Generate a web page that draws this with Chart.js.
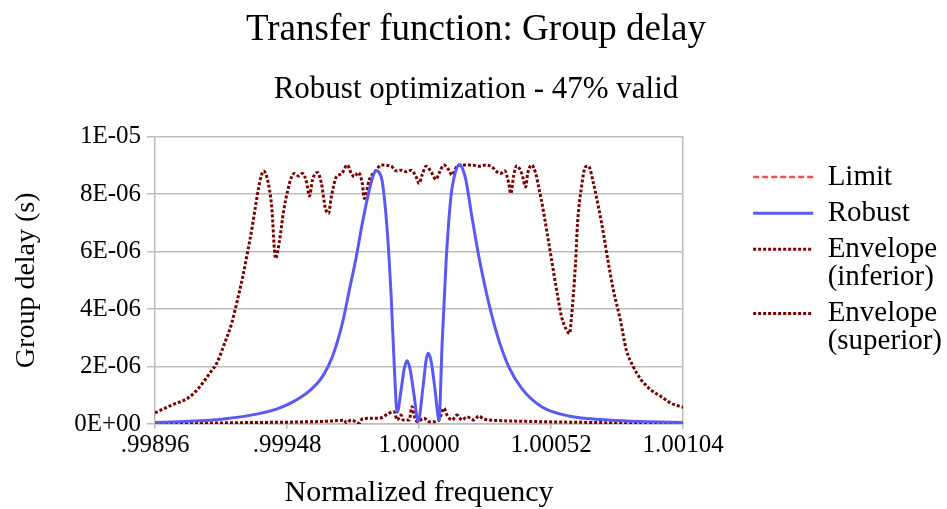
<!DOCTYPE html>
<html>
<head>
<meta charset="utf-8">
<script src="https://cdn.jsdelivr.net/npm/chart.js@4.4.1/dist/chart.umd.min.js"></script>
<style>
  html, body { margin: 0; padding: 0; background: #fff; }
  #wrap { width: 947px; height: 509px; }
</style>
</head>
<body>
<div id="wrap"><canvas id="chart" width="947" height="509"></canvas></div>
<script>
// axis ticks
const xTicks = [0.99896, 0.99948, 1.00000, 1.00052, 1.00104];
const yTicks = [0, 2e-6, 4e-6, 6e-6, 8e-6, 1e-5];

const seriesNames = ['Limit', 'Robust', 'Envelope (inferior)', 'Envelope (superior)'];
const legendLines = [['Limit'], ['Robust'], ['Envelope', '(inferior)'], ['Envelope', '(superior)']];

// Limit has no visible points in the plot
const limitFreq = [];
const limitDelay = [];

const robustFreq = [
  0.9989600, 0.9990777, 0.9992033, 0.9993328, 0.9994388, 0.9995016, 0.9995683, 0.9996193,
  0.9996586, 0.9996978, 0.9997253, 0.9997528, 0.9997763, 0.9998038, 0.9998195, 0.9998312,
  0.9998430, 0.9998548, 0.9998744, 0.9998901, 0.9999019, 0.9999137, 0.9999294, 0.9999411,
  0.9999529, 0.9999647, 0.9999804, 0.9999961, 1.0000157, 1.0000275, 1.0000353, 1.0000471,
  1.0000628, 1.0000785, 1.0000903, 1.0001060, 1.0001256, 1.0001452, 1.0001609, 1.0001727,
  1.0001844, 1.0002080, 1.0002355, 1.0002747, 1.0003140, 1.0003532, 1.0004042, 1.0004827,
  1.0005887, 1.0007457, 1.0009027, 1.0010400
];
const robustDelay = [
  0.05e-6, 0.09e-6, 0.15e-6, 0.30e-6, 0.52e-6, 0.76e-6, 1.15e-6, 1.65e-6,
  2.34e-6, 3.50e-6, 4.66e-6, 5.82e-6, 6.98e-6, 8.14e-6, 8.65e-6, 8.81e-6,
  8.75e-6, 8.45e-6, 6.75e-6, 4.43e-6, 2.11e-6, 0.40e-6, 1.20e-6, 1.90e-6,
  2.20e-6, 1.90e-6, 1.00e-6, 0.08e-6, 1.30e-6, 2.20e-6, 2.46e-6, 2.20e-6,
  1.20e-6, 0.14e-6, 2.69e-6, 5.59e-6, 7.91e-6, 8.83e-6, 9.03e-6, 8.85e-6,
  8.49e-6, 7.21e-6, 5.82e-6, 4.20e-6, 2.92e-6, 1.99e-6, 1.24e-6, 0.60e-6,
  0.28e-6, 0.14e-6, 0.08e-6, 0.05e-6
];

const infFreq = [
  0.9989600, 0.9991366, 0.9993328, 0.9995291, 0.9996468, 0.9997057, 0.9997135, 0.9997331,
  0.9997645, 0.9997763, 0.9998038, 0.9998430, 0.9998823, 0.9999019, 0.9999137, 0.9999294,
  0.9999372, 0.9999608, 0.9999725, 0.9999804, 0.9999921, 1.0000196, 1.0000392, 1.0000589,
  1.0000785, 1.0000981, 1.0001099, 1.0001295, 1.0001491, 1.0001688, 1.0001884, 1.0002158,
  1.0002355, 1.0002551, 1.0003140, 1.0004317, 1.0005494, 1.0007064, 1.0008703, 1.0010400
];
const infDelay = [
  0.02e-6, 0.03e-6, 0.05e-6, 0.07e-6, 0.10e-6, 0.13e-6, 0.04e-6, 0.14e-6,
  0.03e-6, 0.18e-6, 0.20e-6, 0.20e-6, 0.38e-6, 0.43e-6, 0.14e-6, 0.31e-6,
  0.14e-6, 0.14e-6, 0.60e-6, 0.31e-6, 0.08e-6, 0.20e-6, 0.08e-6, 0.08e-6,
  0.14e-6, 0.55e-6, 0.31e-6, 0.14e-6, 0.31e-6, 0.14e-6, 0.25e-6, 0.14e-6,
  0.28e-6, 0.17e-6, 0.12e-6, 0.09e-6, 0.07e-6, 0.05e-6, 0.03e-6, 0.02e-6
];

const supFreq = [
  0.9989600, 0.9990189, 0.9990974, 0.9991366, 0.9991759, 0.9992033, 0.9992347, 0.9992622,
  0.9992818, 0.9993054, 0.9993211, 0.9993407, 0.9993564, 0.9993721, 0.9993878, 0.9994035,
  0.9994192, 0.9994349, 0.9994506, 0.9994663, 0.9994820, 0.9994977, 0.9995094, 0.9995251,
  0.9995408, 0.9995565, 0.9995683, 0.9995801, 0.9995997, 0.9996154, 0.9996311, 0.9996429,
  0.9996546, 0.9996743, 0.9996939, 0.9997174, 0.9997331, 0.9997449, 0.9997606, 0.9997763,
  0.9997842, 0.9998038, 0.9998312, 0.9998509, 0.9998901, 0.9999097, 0.9999294, 0.9999490,
  0.9999686, 0.9999882, 1.0000000, 1.0000118, 1.0000275, 1.0000471, 1.0000667, 1.0000785,
  1.0000981, 1.0001177, 1.0001295, 1.0001491, 1.0001727, 1.0002080, 1.0002355, 1.0002629,
  1.0002865, 1.0003061, 1.0003218, 1.0003375, 1.0003532, 1.0003611, 1.0003728, 1.0003846,
  1.0004042, 1.0004199, 1.0004278, 1.0004435, 1.0004592, 1.0004709, 1.0004866, 1.0005023,
  1.0005220, 1.0005416, 1.0005612, 1.0005808, 1.0005926, 1.0006004, 1.0006161, 1.0006240,
  1.0006397, 1.0006554, 1.0006672, 1.0006868, 1.0007064, 1.0007260, 1.0007457, 1.0007653,
  1.0007927, 1.0008163, 1.0008438, 1.0008752, 1.0009144, 1.0009537, 1.0009929, 1.0010400
];
const supDelay = [
  0.39e-6, 0.63e-6, 0.95e-6, 1.30e-6, 1.77e-6, 2.12e-6, 2.82e-6, 3.51e-6,
  4.21e-6, 5.12e-6, 5.82e-6, 6.75e-6, 7.60e-6, 8.40e-6, 8.80e-6, 8.49e-6,
  7.60e-6, 5.76e-6, 6.40e-6, 7.40e-6, 8.10e-6, 8.60e-6, 8.72e-6, 8.63e-6,
  8.72e-6, 8.43e-6, 7.93e-6, 8.49e-6, 8.75e-6, 8.37e-6, 7.50e-6, 7.33e-6,
  7.91e-6, 8.60e-6, 8.70e-6, 9.01e-6, 8.72e-6, 8.60e-6, 8.75e-6, 8.37e-6,
  7.85e-6, 8.49e-6, 8.83e-6, 9.01e-6, 8.97e-6, 8.81e-6, 8.83e-6, 8.78e-6,
  8.83e-6, 8.60e-6, 8.37e-6, 8.66e-6, 8.97e-6, 8.78e-6, 8.51e-6, 8.72e-6,
  9.01e-6, 8.83e-6, 8.66e-6, 8.97e-6, 9.01e-6, 9.01e-6, 8.97e-6, 9.01e-6,
  8.95e-6, 8.78e-6, 8.72e-6, 8.81e-6, 8.37e-6, 8.02e-6, 8.66e-6, 8.98e-6,
  8.72e-6, 8.25e-6, 8.72e-6, 9.01e-6, 8.72e-6, 8.25e-6, 7.56e-6, 6.75e-6,
  5.70e-6, 4.66e-6, 3.73e-6, 3.27e-6, 3.15e-6, 3.73e-6, 5.59e-6, 6.98e-6,
  8.25e-6, 8.95e-6, 8.97e-6, 8.37e-6, 7.56e-6, 6.63e-6, 5.59e-6, 4.66e-6,
  3.62e-6, 2.57e-6, 1.99e-6, 1.53e-6, 1.18e-6, 0.95e-6, 0.72e-6, 0.58e-6
];

const gridColor = '#bcbcbc';
const serif = '"Liberation Serif", "Times New Roman", serif';

Chart.defaults.font.family = serif;
Chart.defaults.color = '#000';

function pts(xs, ys) {
  return xs.map((x, i) => ({ x: x, y: ys[i] }));
}

function fmtExp(v) {
  if (v === 0) return '0E+00';
  const e = Math.floor(Math.log10(v) + 1e-9);
  const m = Math.round(v / Math.pow(10, e));
  return m + 'E' + (e < 0 ? '-' : '+') + String(Math.abs(e)).padStart(2, '0');
}

const ctx = document.getElementById('chart').getContext('2d');
const chart = new Chart(ctx, {
  type: 'line',
  data: {
    datasets: [
      { label: seriesNames[0], data: pts(limitFreq, limitDelay), borderColor: '#f25050', borderWidth: 2.5, borderDash: [6, 3] },
      { label: seriesNames[1], data: pts(robustFreq, robustDelay), borderColor: '#5a5af2', borderWidth: 3 },
      { label: seriesNames[2], data: pts(infFreq, infDelay), borderColor: '#7c0000', borderWidth: 3, borderDash: [3, 2] },
      { label: seriesNames[3], data: pts(supFreq, supDelay), borderColor: '#7c0000', borderWidth: 3, borderDash: [3, 2] }
    ]
  },
  options: {
    responsive: false,
    animation: false,
    layout: { padding: { right: -5 } },
    elements: {
      point: { radius: 0, pointStyle: 'line' },
      line: { cubicInterpolationMode: 'monotone', fill: false }
    },
    plugins: {
      title: {
        display: true, text: 'Transfer function: Group delay', color: '#000',
        font: { size: 37, weight: 'normal' }, padding: { top: 8, bottom: 0 }
      },
      subtitle: {
        display: true, text: 'Robust optimization - 47% valid', color: '#000',
        font: { size: 31, weight: 'normal' }, padding: { top: 19, bottom: 28 }
      },
      legend: {
        position: 'right',
        align: 'start',
        fullSize: false,
        maxWidth: 260,
        title: { display: true, text: '', font: { size: 1, lineHeight: 1 }, padding: { top: 17, bottom: 0 } },
        labels: {
          usePointStyle: true,
          pointStyleWidth: 60,
          padding: 8,
          color: '#000',
          font: { size: 29, lineHeight: 0.97 },
          generateLabels(chart) {
            const items = Chart.defaults.plugins.legend.labels.generateLabels(chart);
            items.forEach((it, i) => {
              const ds = chart.data.datasets[i];
              it.text = legendLines[i];
              it.pointStyle = 'line';
              it.lineWidth = ds.borderWidth;
              it.lineDash = ds.borderDash || [];
              it.lineDashOffset = 0;
            });
            return items;
          }
        }
      },
      tooltip: { enabled: false }
    },
    scales: {
      x: {
        type: 'linear',
        min: xTicks[0],
        max: xTicks[xTicks.length - 1],
        afterBuildTicks: s => { s.ticks = xTicks.map(v => ({ value: v })); },
        afterFit: s => { s.height = 85; },
        grid: { drawOnChartArea: false, color: gridColor, lineWidth: 1.5, tickLength: 5 },
        border: { color: gridColor, width: 1.5 },
        ticks: {
          font: { size: 25 }, color: '#000', padding: 1, maxRotation: 0, autoSkip: false,
          callback: v => v.toFixed(5).replace(/^0/, '')
        },
        title: { display: true, text: 'Normalized frequency', color: '#000', font: { size: 30, lineHeight: 1.05 }, padding: 0 }
      },
      y: {
        type: 'linear',
        min: 0,
        max: 1e-5,
        afterBuildTicks: s => { s.ticks = yTicks.map(v => ({ value: v })); },
        afterFit: s => { s.width = 155; },
        grid: { color: gridColor, lineWidth: 1.5, tickLength: 8 },
        border: { color: gridColor, width: 1.5 },
        ticks: { font: { size: 25 }, color: '#000', padding: 6, callback: v => fmtExp(v) },
        title: { display: true, text: 'Group delay (s)', color: '#000', font: { size: 28 }, padding: { top: 10, bottom: 0 } }
      },
      yR: {
        type: 'linear',
        position: 'right',
        min: 0,
        max: 1e-5,
        afterFit: s => { s.width = 62; },
        grid: { display: false },
        ticks: { display: false },
        border: { display: true, color: gridColor, width: 1.5 }
      }
    }
  }
});
</script>
</body>
</html>
